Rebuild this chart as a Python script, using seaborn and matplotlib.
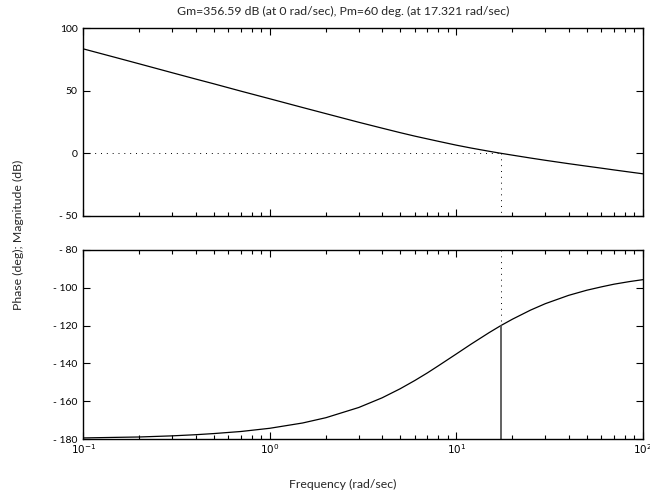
import matplotlib
matplotlib.use("Agg")
import matplotlib.pyplot as plt
import seaborn as sns
from matplotlib.ticker import LogLocator, NullFormatter

# values (frequency in rad/sec)
freq = [0.1, 0.15, 0.2, 0.3, 0.4, 0.5, 0.7, 1, 1.5, 2, 3, 4, 5, 6, 7, 8,
        10, 12, 15, 17.321, 20, 25, 30, 40, 50, 60, 70, 85, 100]
mag_db = [83.5, 76.5, 71.5, 64.4, 59.4, 55.6, 49.7, 43.6, 36.6, 31.7, 24.8,
          20.1, 16.5, 13.7, 11.5, 9.6, 6.5, 4.2, 1.6, 0.0, -1.5, -3.8, -5.6,
          -8.3, -10.3, -11.9, -13.3, -15.0, -16.4]
phase_deg = [-179.4, -179.1, -178.9, -178.3, -177.7, -177.1, -176.0, -174.3,
             -171.5, -168.7, -163.3, -158.2, -153.4, -149.0, -145.0, -141.3,
             -135.0, -129.8, -123.7, -120.0, -116.6, -111.8, -108.4, -104.0,
             -101.3, -99.5, -98.1, -96.7, -95.7]
wc = 17.321
pm_phase = -120

mag_ticks = [-50, 0, 50, 100]
mag_labels = ["- 50", "0", "50", "100"]
phase_ticks = [-180, -160, -140, -120, -100, -80]
phase_labels = ["- 180", "- 160", "- 140", "- 120", "- 100", "- 80"]
x_ticks = [0.1, 1, 10, 100]
x_labels = [r"$10^{-1}$", r"$10^{0}$", r"$10^{1}$", r"$10^{2}$"]
title = "Gm=356.59 dB (at 0 rad/sec), Pm=60 deg. (at 17.321 rad/sec)"

sns.set_style("ticks")
plt.rcParams["font.family"] = ["Lato", "DejaVu Sans"]
plt.rcParams["font.size"] = 7.5

fig = plt.figure(figsize=(6.5, 4.95), dpi=100)
ax1 = fig.add_axes([0.128, 0.564, 0.861, 0.379])
ax2 = fig.add_axes([0.128, 0.113, 0.861, 0.382])

sns.lineplot(x=freq, y=mag_db, ax=ax1, color="black", lw=0.9)
sns.lineplot(x=freq, y=phase_deg, ax=ax2, color="black", lw=0.9)

dots = (0, (1, 5))
ax1.plot([freq[0], wc], [0, 0], color="black", lw=0.7, ls=dots)
ax1.plot([wc, wc], [0, -50], color="black", lw=0.7, ls=dots)
ax2.plot([wc, wc], [-80, pm_phase], color="black", lw=0.7, ls=dots)
ax2.plot([wc, wc], [pm_phase, -180], color="#555555", lw=1.3)

for ax in (ax1, ax2):
    ax.set_xscale("log")
    ax.set_xlim(0.1, 100)
    ax.set_xticks(x_ticks)
    ax.xaxis.set_minor_locator(LogLocator(base=10, subs=range(2, 10)))
    ax.xaxis.set_minor_formatter(NullFormatter())
    ax.tick_params(which="both", direction="in", top=True, right=True,
                   width=0.8, colors="black", labelsize=7.5)
    ax.tick_params(which="major", length=5)
    ax.tick_params(which="minor", length=3)
    ax.tick_params(axis="x", pad=2)
    ax.tick_params(axis="y", pad=4)
    for s in ax.spines.values():
        s.set_linewidth(1.0)
        s.set_color("black")
    ax.set_xlabel("")
    ax.set_ylabel("")

ax1.set_ylim(-50, 100)
ax1.set_yticks(mag_ticks)
ax1.set_yticklabels(mag_labels)
ax1.set_xticklabels([])

ax2.set_ylim(-180, -80)
ax2.set_yticks(phase_ticks)
ax2.set_yticklabels(phase_labels)
ax2.set_xticklabels(x_labels)

fig.text(0.528, 0.976, title, ha="center", va="center", fontsize=8.8)
fig.text(0.028, 0.525, "Phase (deg); Magnitude (dB)", rotation=90,
         ha="center", va="center", fontsize=8.8)
fig.text(0.527, 0.021, "Frequency (rad/sec)", ha="center", va="center",
         fontsize=8.8)

fig.savefig("out.png", dpi=100)
